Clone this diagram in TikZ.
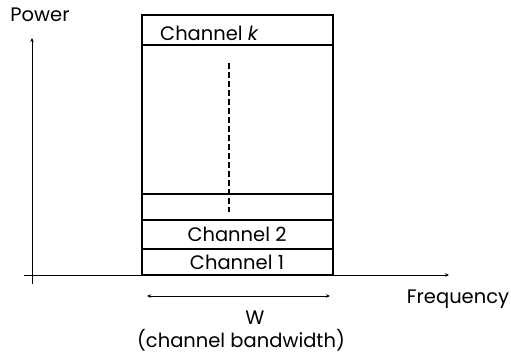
\documentclass[tikz,border=0pt]{standalone}
\usepackage{fontspec}
\setmainfont{Poppins}
\usetikzlibrary{arrows.meta}
\begin{document}
\begin{tikzpicture}[x=1pt,y=-1pt,
  lbl/.style={font=\fontsize{19.5}{22}\selectfont, inner sep=0pt},
  ln/.style={line width=1.2pt},
  axis/.style={line width=1pt, -{Stealth[length=4pt,width=3.5pt]}},
  bw/.style={line width=1pt, {Stealth[length=4pt,width=3.5pt]}-{Stealth[length=4pt,width=3.5pt]}}]
\useasboundingbox (0,0) rectangle (511,358);
% axes
\coordinate (yb) at (32,284);
\coordinate (yt) at (32,38);
\coordinate (xl) at (24,275);
\coordinate (xr) at (449,275);
\draw[axis] (yb) -- (yt);
\draw[axis] (xl) -- (xr);
% outer box
\draw[ln] (142,15) rectangle (333,275);
\draw[ln] (142,45) -- (333,45);
% lower boxes
\draw[ln] (142,194) rectangle (333,275);
\draw[ln] (142,220) -- (333,220);
\draw[ln] (142,249) -- (333,249);
\draw[line width=2pt] (142,275) -- (333,275);
\draw[line width=1.8pt] (333,194) -- (333,249);
% dashed
\coordinate (d1) at (229,63);
\coordinate (d2) at (229,212);
\draw[line width=1.1pt, dash pattern=on 6pt off 3pt] (d1) -- (d2);
% labels
\node[lbl] (pw) at (40,15) {Power};
\node[lbl, anchor=west] (ck) at (160,33) {Channel \textit{k}};
\node[lbl] (c2) at (237,234.5) {Channel 2};
\node[lbl] (c1) at (237,262) {Channel 1};
\node[lbl] (fr) at (458,299) {Frequency};
% bandwidth
\coordinate (bl) at (147,296);
\coordinate (br) at (330,296);
\draw[bw] (bl) -- (br);
\node[lbl] (w) at (255,318) {W};
\node[lbl] (cb) at (241,340) {(channel bandwidth)};
\end{tikzpicture}
\end{document}
